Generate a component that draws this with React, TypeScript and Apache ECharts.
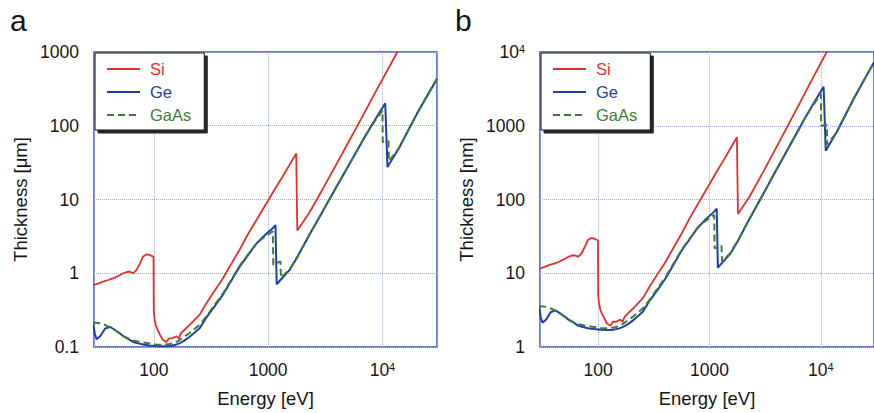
import React, { useEffect, useRef } from 'react';
import * as echarts from 'echarts';

// Energies in eV
const siEnergy = [29.5, 33, 36, 40, 44, 49, 54, 58, 62, 66, 70.5, 75.5, 80.7, 86, 91, 95.5, 99.5, 100, 101.5, 104, 108, 113, 119, 125, 129, 135, 145, 158, 166, 172, 185, 206, 252, 288, 330, 402, 480, 562, 660, 786, 1000, 1150, 1340, 1530, 1760, 1800, 2290, 3000, 4000, 6000, 9000, 13500, 16000];
// Panel a: thickness in µm
const siThickA = [0.69, 0.73, 0.77, 0.81, 0.85, 0.92, 1.0, 1.04, 1.05, 1.0, 1.1, 1.35, 1.69, 1.8, 1.78, 1.72, 1.68, 0.30, 0.24, 0.2, 0.17, 0.148, 0.127, 0.12, 0.117, 0.13, 0.132, 0.14, 0.13, 0.153, 0.17, 0.2, 0.275, 0.39, 0.54, 0.85, 1.37, 2.07, 3.3, 5.2, 9.7, 14, 20.5, 29, 42, 3.8, 6.6, 13.8, 31, 98, 316, 1000, 1630];
// Panel b: thickness in nm
const siThickB = [11.5, 12.2, 12.9, 13.5, 14.2, 15.4, 16.7, 17.4, 17.5, 16.7, 18.4, 22.5, 28.2, 30, 29.7, 28.7, 28, 5.0, 4.0, 3.3, 2.8, 2.5, 2.1, 2.0, 1.95, 2.2, 2.2, 2.35, 2.2, 2.55, 2.85, 3.35, 4.6, 6.5, 9.0, 14.2, 22.9, 34.6, 55, 87, 162, 234, 342, 484, 701, 63.5, 110, 230, 518, 1640, 5280, 16700, 27200];

const geEnergy = [29.5, 30.5, 31.6, 34, 37.4, 41.3, 45.7, 50, 54, 60, 66, 73, 80.7, 92, 105.5, 120, 138, 155, 169, 185, 206, 252, 288, 340, 402, 480, 562, 660, 786, 900, 1000, 1100, 1160, 1188, 1300, 1535, 1800, 2290, 3000, 3660, 5000, 7160, 8450, 10580, 11060, 13960, 20000, 30000];
const geThickA = [0.21, 0.15, 0.128, 0.14, 0.177, 0.188, 0.17, 0.155, 0.141, 0.128, 0.117, 0.112, 0.108, 0.105, 0.103, 0.102, 0.103, 0.107, 0.113, 0.122, 0.138, 0.18, 0.25, 0.356, 0.51, 0.81, 1.22, 1.72, 2.5, 3.1, 3.6, 4.1, 4.5, 0.71, 0.83, 1.1, 1.65, 3.3, 6.9, 12, 28, 75, 115, 202, 27.5, 50, 145, 435];
const geThickB = [3.5, 2.5, 2.14, 2.34, 2.96, 3.14, 2.84, 2.59, 2.35, 2.14, 1.95, 1.87, 1.8, 1.75, 1.72, 1.7, 1.72, 1.79, 1.89, 2.04, 2.3, 3.0, 4.2, 5.9, 8.5, 13.5, 20.4, 28.7, 41.8, 51.8, 60, 68.5, 75, 11.9, 13.9, 18.4, 27.6, 55, 115, 200, 468, 1250, 1920, 3370, 459, 835, 2420, 7260];

const gaasEnergy = [29.5, 34, 37.4, 41.3, 45.7, 54, 66, 80.7, 92, 105, 120, 138, 155, 169, 185, 206, 252, 288, 340, 402, 480, 562, 660, 786, 900, 1000, 1100, 1110, 1280, 1295, 1535, 1800, 2290, 3000, 3660, 5000, 7160, 8450, 10000, 10060, 11300, 11400, 13960, 20000, 30000];
const gaasThickA = [0.215, 0.21, 0.2, 0.185, 0.17, 0.14, 0.122, 0.115, 0.112, 0.108, 0.107, 0.11, 0.115, 0.125, 0.138, 0.155, 0.2, 0.26, 0.37, 0.53, 0.83, 1.25, 1.75, 2.5, 3.0, 3.35, 3.7, 1.3, 1.45, 0.87, 1.12, 1.68, 3.3, 6.9, 12, 28, 75, 112, 161, 60, 62, 33, 50, 145, 435];
const gaasThickB = [3.6, 3.5, 3.34, 3.1, 2.84, 2.34, 2.04, 1.92, 1.87, 1.8, 1.79, 1.84, 1.92, 2.09, 2.3, 2.59, 3.34, 4.34, 6.2, 8.85, 13.9, 20.9, 29.2, 41.8, 50, 56, 61.8, 21.7, 24.2, 14.5, 18.7, 28, 55, 115, 200, 468, 1250, 1870, 2690, 1000, 1035, 551, 835, 2420, 7260];

const seriesNames = ['Si', 'Ge', 'GaAs'];
const panelLetters = ['a', 'b'];
const yNames = ['Thickness [μm]', 'Thickness [nm]'];
const xName = 'Energy [eV]';
const yRanges = [[0.1, 1000], [1, 10000]];
const xRange = [30, 30000];

const FONT = "'Liberation Sans', Arial, Helvetica, sans-serif";
const RED = '#e2302a';
const BLUE = '#1f3ea8';
const GREEN = '#3f7c33';
const FRAME = '#3552bd';
const GRIDLINE = '#a6aee0';
const TEXT = '#151515';

function zip(xs: number[], ys: number[]) {
  return xs.map((x, i) => [x, ys[i]]);
}

function fmtPow(v: number) {
  const l = Math.log10(v);
  const r = Math.round(l);
  if (Math.abs(l - r) > 1e-6) return '';
  if (r >= 4) return '10{sup|' + r + '}';
  const n = Math.pow(10, r);
  return r < 0 ? n.toFixed(-r) : String(n);
}

export default function App() {
  const ref = useRef<HTMLDivElement>(null);
  useEffect(() => {
    if (!ref.current) return;
    const chart = echarts.init(ref.current, undefined, { renderer: 'svg' });
    const gridLefts = [94, 540];
    const legendLefts = [95, 541];
    const colors = [RED, BLUE, GREEN];
    const dataA = [zip(siEnergy, siThickA), zip(geEnergy, geThickA), zip(gaasEnergy, gaasThickA)];
    const dataB = [zip(siEnergy, siThickB), zip(geEnergy, geThickB), zip(gaasEnergy, gaasThickB)];
    const labelStyle = {
      color: TEXT,
      fontSize: 17.5,
      fontFamily: FONT,
      formatter: fmtPow,
      rich: { sup: { fontSize: 11, verticalAlign: 'top', fontFamily: FONT, color: TEXT } },
    };
    const option: any = {
      animation: false,
      grid: gridLefts.map((l) => ({
        left: l, top: 52, width: 343, height: 299, show: true,
        borderColor: FRAME, borderWidth: 1.5, backgroundColor: 'transparent',
      })),
      xAxis: [0, 1].map((i) => ({
        type: 'log', gridIndex: i, logBase: 10, min: xRange[0], max: xRange[1],
        axisLine: { show: false }, axisTick: { show: false },
        splitLine: { show: true, lineStyle: { type: 'dotted', color: GRIDLINE, width: 1 } },
        axisLabel: { ...labelStyle, margin: 14, showMinLabel: false, showMaxLabel: false },
        name: xName, nameLocation: 'middle', nameGap: 42,
        nameTextStyle: { fontSize: 18.5, fontFamily: FONT, color: TEXT },
      })),
      yAxis: [0, 1].map((i) => ({
        type: 'log', gridIndex: i, logBase: 10, min: yRanges[i][0], max: yRanges[i][1],
        axisLine: { show: false }, axisTick: { show: false },
        splitLine: { show: true, lineStyle: { type: 'dotted', color: GRIDLINE, width: 1 } },
        axisLabel: { ...labelStyle, margin: 15, showMinLabel: true, showMaxLabel: true },
        name: yNames[i], nameLocation: 'middle', nameGap: 64,
        nameTextStyle: { fontSize: 18.5, fontFamily: FONT, color: TEXT },
      })),
      legend: legendLefts.map((l) => ({
        left: l, top: 53, orient: 'vertical', itemWidth: 33, itemHeight: 14, itemGap: 5,
        padding: [7, 13, 6, 11], backgroundColor: '#fff', borderColor: '#111', borderWidth: 1,
        shadowColor: 'rgba(0,0,0,0.85)', shadowBlur: 1, shadowOffsetX: 3, shadowOffsetY: 3,
        selectedMode: false,
        itemStyle: { opacity: 0 },
        textStyle: { fontSize: 16.5, fontFamily: FONT, padding: [0, 0, 0, 5], lineHeight: 18 },
        data: seriesNames.map((n, k) => ({ name: n, textStyle: { color: colors[k] } })),
      })),
      graphic: panelLetters.map((t, i) => ({
        type: 'text', x: [10, 455][i], y: 20,
        style: { text: t, fontSize: 30, fontFamily: FONT, fill: TEXT, verticalAlign: 'middle' },
      })),
      series: [
        ...[dataA, dataB].flatMap((data, gi) =>
          data.map((d, k) => ({
            type: 'line', name: seriesNames[k], xAxisIndex: gi, yAxisIndex: gi,
            data: d, symbol: 'none', showSymbol: false, clip: true,
            lineStyle: { color: colors[k], width: k === 0 ? 1.8 : 2, type: k === 2 ? [7, 4] : 'solid' },
            itemStyle: { color: colors[k] },
          }))
        ),
      ],
    };
    chart.setOption(option);
    return () => chart.dispose();
  }, []);
  return <div ref={ref} style={{ position: 'absolute', left: 0, top: 0, width: 874, height: 413 }} />;
}
